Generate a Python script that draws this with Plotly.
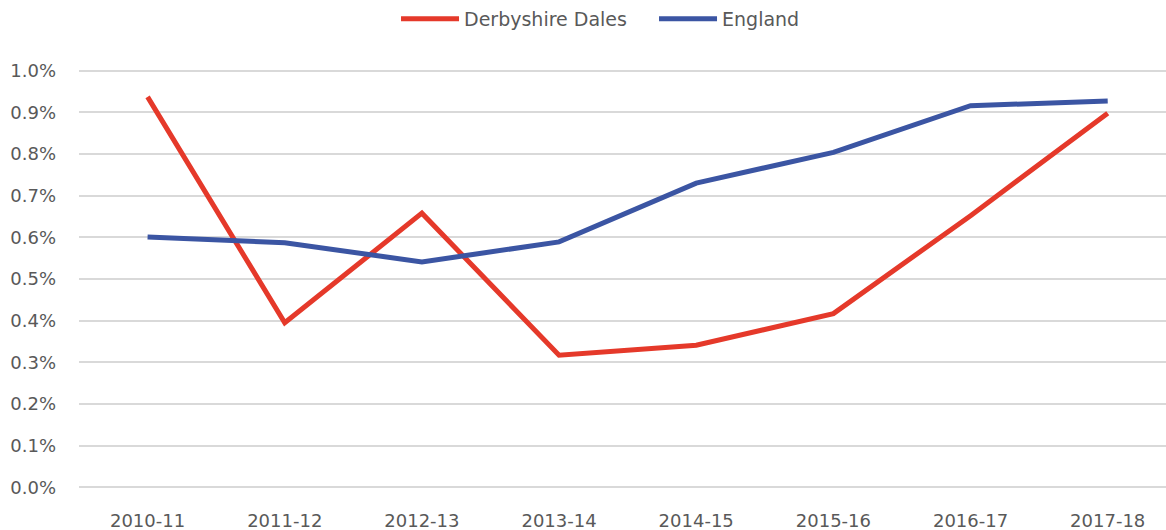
import plotly.graph_objects as go

years = ["2010-11", "2011-12", "2012-13", "2013-14", "2014-15", "2015-16", "2016-17", "2017-18"]
derbyshire_dales = [0.937, 0.395, 0.658, 0.317, 0.341, 0.417, 0.652, 0.898]
england = [0.601, 0.587, 0.541, 0.589, 0.730, 0.804, 0.916, 0.927]

font_family = "DejaVu Sans"
text_color = "#595959"

fig = go.Figure()
fig.add_trace(go.Scatter(x=years, y=derbyshire_dales, name="Derbyshire Dales", mode="lines",
                         line=dict(color="#E5392A", width=5)))
fig.add_trace(go.Scatter(x=years, y=england, name="England", mode="lines",
                         line=dict(color="#3B55A3", width=5)))

fig.update_layout(
    width=1166, height=530,
    margin=dict(l=79, r=0, t=69, b=41, autoexpand=False),
    paper_bgcolor="white", plot_bgcolor="white",
    font=dict(family=font_family, size=18, color=text_color),
    legend=dict(orientation="h", x=0.529, xanchor="center", y=1.0, yref="container", yanchor="top",
                font=dict(size=19, color=text_color), itemwidth=58, entrywidth=185),
    xaxis=dict(type="category", range=[-0.5, 7.425], showgrid=False, zeroline=False, showline=False,
               automargin=False, ticks="", ticklabelstandoff=19, tickfont=dict(size=18, color=text_color)),
    yaxis=dict(range=[-0.004, 1.004], dtick=0.1, tick0=0, tickformat=".1f", ticksuffix="%",
               showgrid=True, gridcolor="#D9D9D9", gridwidth=1.5,
               zeroline=True, zerolinecolor="#D9D9D9", zerolinewidth=1.5, showline=False,
               automargin=False, ticks="", ticklabelstandoff=22, tickfont=dict(size=18, color=text_color)),
)

fig.write_html("out.html", config={"displayModeBar": False},
               post_script="document.body.style.margin='0';document.body.style.overflow='hidden';")
